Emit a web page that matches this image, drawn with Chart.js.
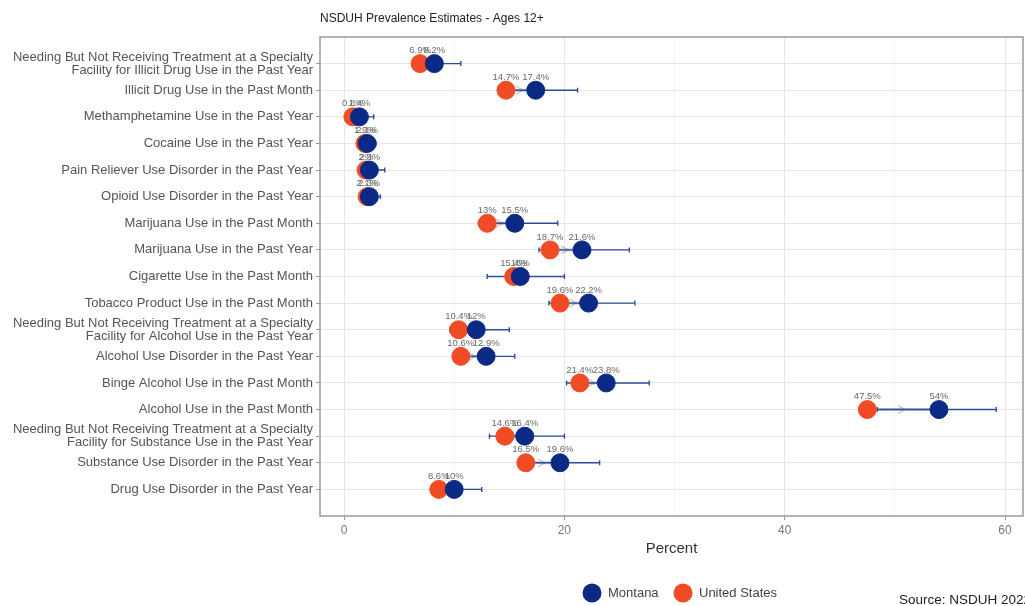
<!DOCTYPE html>
<html><head><meta charset="utf-8">
<script src="https://cdn.jsdelivr.net/npm/chart.js@4/dist/chart.umd.min.js"></script>
<style>html,body{margin:0;padding:0;background:#fff;overflow:hidden}</style>
</head><body>
<canvas id="c" width="1025" height="606"></canvas>
<script>
const chartTitle = 'NSDUH Prevalence Estimates - Ages 12+';
const categories = [
  ['Needing But Not Receiving Treatment at a Specialty', 'Facility for Illicit Drug Use in the Past Year'],
  'Illicit Drug Use in the Past Month',
  'Methamphetamine Use in the Past Year',
  'Cocaine Use in the Past Year',
  'Pain Reliever Use Disorder in the Past Year',
  'Opioid Use Disorder in the Past Year',
  'Marijuana Use in the Past Month',
  'Marijuana Use in the Past Year',
  'Cigarette Use in the Past Month',
  'Tobacco Product Use in the Past Month',
  ['Needing But Not Receiving Treatment at a Specialty', 'Facility for Alcohol Use in the Past Year'],
  'Alcohol Use Disorder in the Past Year',
  'Binge Alcohol Use in the Past Month',
  'Alcohol Use in the Past Month',
  ['Needing But Not Receiving Treatment at a Specialty', 'Facility for Substance Use in the Past Year'],
  'Substance Use Disorder in the Past Year',
  'Drug Use Disorder in the Past Year'
];
const montana      = [8.2, 17.4, 1.4, 2.1, 2.3, 2.3, 15.5, 21.6, 16, 22.2, 12, 12.9, 23.8, 54, 16.4, 19.6, 10];
const unitedStates = [6.9, 14.7, 0.8, 1.9, 2.0, 2.1, 13, 18.7, 15.4, 19.6, 10.4, 10.6, 21.4, 47.5, 14.6, 16.5, 8.6];
const montanaLow   = [6.3, 14.0, 0.8, 1.5, 1.6, 1.6, 12.2, 17.7, 13.0, 18.6, 9.6, 10.6, 20.2, 48.4, 13.2, 16.5, 8.0];
const montanaHigh  = [10.6, 21.2, 2.7, 2.9, 3.7, 3.3, 19.4, 25.9, 20.0, 26.4, 15.0, 15.5, 27.7, 59.2, 20.0, 23.2, 12.5];
const xTicks = [0, 20, 40, 60];
const seriesNames = ['Montana', 'United States'];
const xTitle = 'Percent';
const sourceText = 'Source: NSDUH 2022';

const BLUE = '#0b2a86', RED = '#f04b24';
const FONT = "'Liberation Sans', Arial, sans-serif";

const extras = {
  id: 'extras',
  beforeDatasetsDraw(chart) {
    const {ctx, scales: {x, y}} = chart;
    ctx.save();
    for (let i = 0; i < categories.length; i++) {
      const x1 = x.getPixelForValue(unitedStates[i]), x2 = x.getPixelForValue(montana[i]);
      const yy = y.getPixelForValue(i);
      ctx.strokeStyle = 'rgba(150,150,150,0.5)';
      ctx.lineWidth = 3;
      ctx.beginPath(); ctx.moveTo(x1, yy); ctx.lineTo(x2, yy); ctx.stroke();
      const mx = (x1 + x2) / 2, d = x2 > x1 ? 1 : -1;
      ctx.lineWidth = 1.5;
      ctx.beginPath(); ctx.moveTo(mx - 5 * d, yy - 4); ctx.lineTo(mx + 2 * d, yy); ctx.lineTo(mx - 5 * d, yy + 4); ctx.stroke();
    }
    ctx.strokeStyle = '#2f4c9c';
    ctx.lineWidth = 1.4;
    for (let i = 0; i < categories.length; i++) {
      const a = x.getPixelForValue(montanaLow[i]), b = x.getPixelForValue(montanaHigh[i]);
      const yy = y.getPixelForValue(i);
      ctx.beginPath();
      ctx.moveTo(a, yy); ctx.lineTo(b, yy);
      ctx.moveTo(a, yy - 2.5); ctx.lineTo(a, yy + 2.5);
      ctx.moveTo(b, yy - 2.5); ctx.lineTo(b, yy + 2.5);
      ctx.stroke();
    }
    ctx.restore();
  },
  afterDatasetsDraw(chart) {
    const {ctx, scales: {x, y}, chartArea: ca} = chart;
    ctx.save();
    ctx.font = '9.5px ' + FONT;
    ctx.fillStyle = '#6a6a6a';
    ctx.textAlign = 'center';
    ctx.textBaseline = 'middle';
    for (let i = 0; i < categories.length; i++) {
      const yy = y.getPixelForValue(i) - 13;
      ctx.fillText(unitedStates[i] + '%', x.getPixelForValue(unitedStates[i]), yy);
      ctx.fillText(montana[i] + '%', x.getPixelForValue(montana[i]), yy);
    }
    ctx.strokeStyle = '#9a9a9a';
    ctx.lineWidth = 1.5;
    ctx.strokeRect(ca.left, ca.top, ca.right - ca.left, ca.bottom - ca.top);
    ctx.restore();
  },
  afterDraw(chart) {
    const {ctx} = chart;
    ctx.save();
    ctx.fillStyle = '#222';
    ctx.font = '12px ' + FONT;
    ctx.textAlign = 'left';
    ctx.textBaseline = 'middle';
    ctx.fillText(chartTitle, 320, 19);
    const items = [[seriesNames[0], BLUE, 592], [seriesNames[1], RED, 683]];
    ctx.font = '13px ' + FONT;
    for (const [name, col, cx] of items) {
      ctx.fillStyle = col;
      ctx.beginPath(); ctx.arc(cx, 593, 9.5, 0, Math.PI * 2); ctx.fill();
      ctx.fillStyle = '#444';
      ctx.fillText(name, cx + 16, 593);
    }
    ctx.fillStyle = '#222';
    ctx.font = '13.5px ' + FONT;
    ctx.fillText(sourceText, 899, 600);
    ctx.restore();
  }
};

const majorGrid = '#e6e6e6', minorGrid = '#f2f2f2';
const zeroPad = s => { s.paddingLeft = 0; s.paddingRight = 0; s.paddingTop = 0; s.paddingBottom = 0; };

new Chart(document.getElementById('c'), {
  type: 'scatter',
  data: {
    datasets: [
      { label: seriesNames[0], data: montana.map((v, i) => ({x: v, y: i})), backgroundColor: BLUE, borderColor: BLUE, pointRadius: 9, pointHoverRadius: 9 },
      { label: seriesNames[1], data: unitedStates.map((v, i) => ({x: v, y: i})), backgroundColor: RED, borderColor: RED, pointRadius: 9, pointHoverRadius: 9 }
    ]
  },
  options: {
    responsive: false,
    animation: false,
    devicePixelRatio: 1,
    layout: { autoPadding: false, padding: { top: 37, right: 2, bottom: 40, left: 0 } },
    plugins: { legend: { display: false }, tooltip: { enabled: false } },
    scales: {
      x: {
        type: 'linear', min: -2.18, max: 61.63,
        border: { display: false },
        ticks: { stepSize: 10, maxTicksLimit: 100, includeBounds: false, autoSkip: false, maxRotation: 0,
          callback: v => xTicks.includes(v) ? String(v) : '',
          color: '#777', font: { size: 12, family: FONT }, padding: 3 },
        grid: {
          color: c => xTicks.includes(c.tick.value) ? majorGrid : minorGrid,
          lineWidth: c => xTicks.includes(c.tick.value) ? 1 : 0.7,
          tickColor: c => xTicks.includes(c.tick.value) ? '#999' : 'rgba(0,0,0,0)',
          tickLength: 4
        },
        title: { display: true, text: xTitle, color: '#333', font: { size: 15, family: FONT }, padding: { top: 4, bottom: 8 } },
        afterFit: s => { s.height = 50; zeroPad(s); }
      },
      y: {
        type: 'linear', reverse: true, min: -1, max: 17,
        border: { display: false },
        ticks: { stepSize: 1, maxTicksLimit: 100, autoSkip: false,
          callback: v => (v >= 0 && v < categories.length) ? categories[v] : '',
          color: '#555', font: { size: 13, family: FONT, lineHeight: 1.0 }, padding: 3 },
        grid: {
          color: c => (c.tick.value >= 0 && c.tick.value < categories.length) ? majorGrid : 'rgba(0,0,0,0)',
          tickColor: c => (c.tick.value >= 0 && c.tick.value < categories.length) ? '#999' : 'rgba(0,0,0,0)',
          tickLength: 4
        },
        afterFit: s => { s.width = 320; zeroPad(s); }
      }
    }
  },
  plugins: [extras]
});
</script>
</body></html>
